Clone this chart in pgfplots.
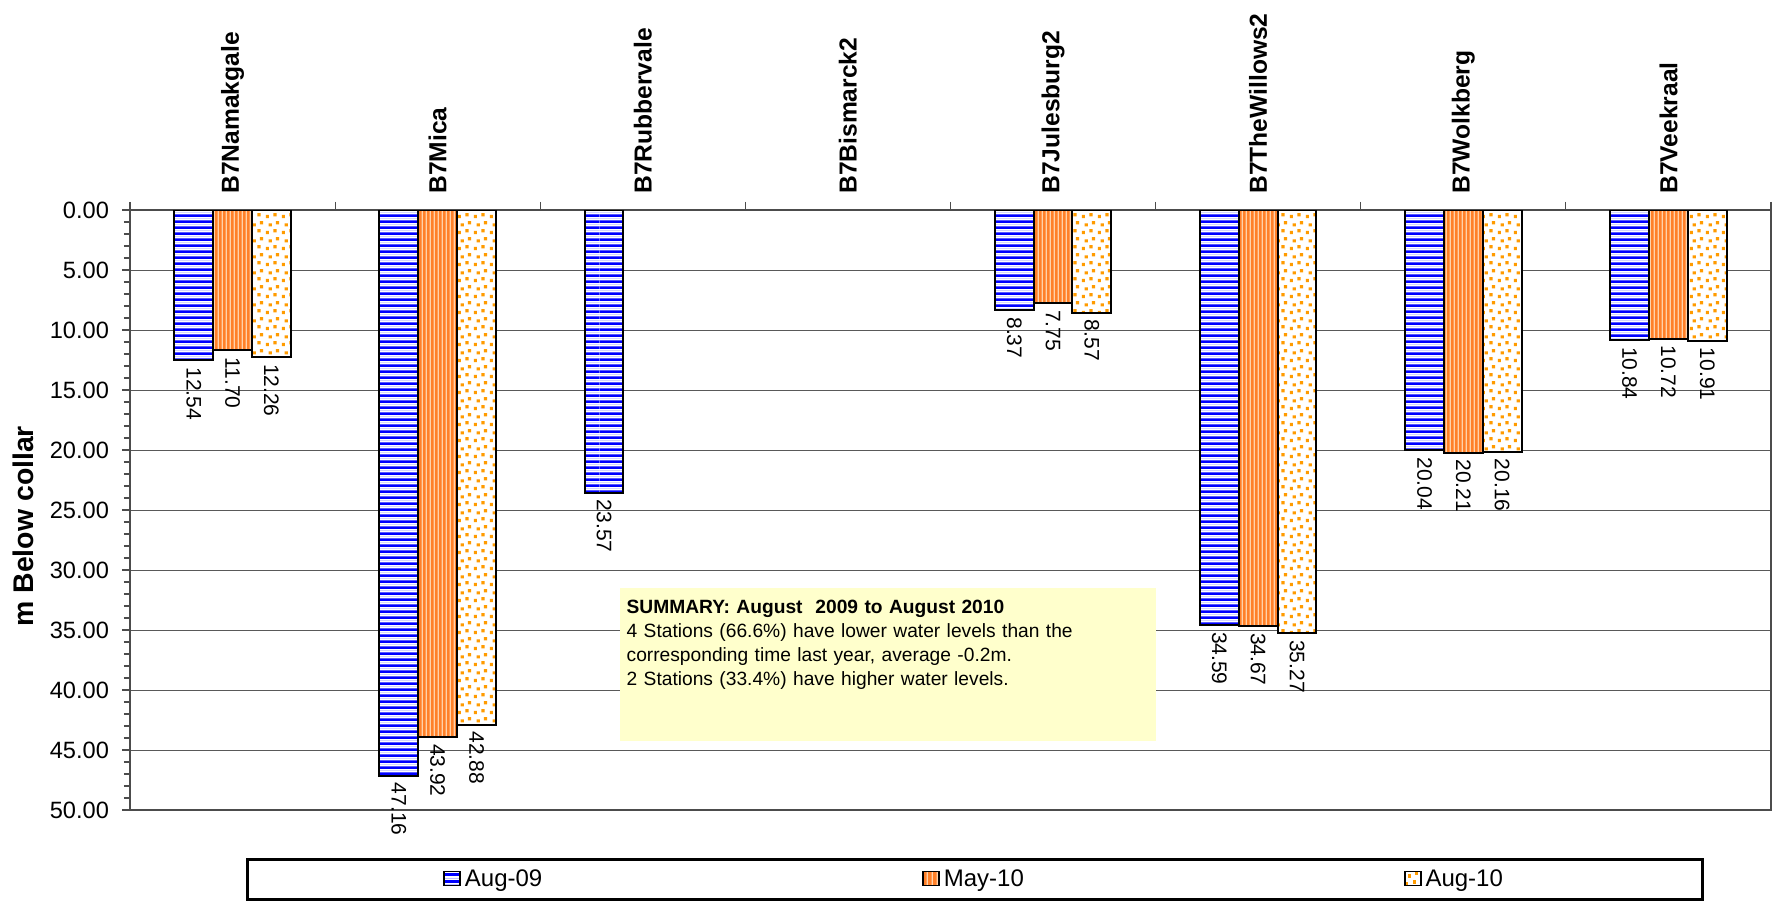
\documentclass[border=0pt]{standalone}
\usepackage{pgfplots}
\pgfplotsset{compat=1.18}
\usepackage{fontspec}
\setmainfont{Liberation Sans}
\usetikzlibrary{patterns.meta}
\definecolor{stripeorange}{RGB}{255,128,40}
\definecolor{stripelight}{RGB}{255,210,170}
\definecolor{dotorange}{RGB}{255,155,0}
\definecolor{summaryfill}{RGB}{255,255,204}
\tikzdeclarepattern{
  name=bluestripes, type=colored,
  bottom left={(0pt,0pt)}, top right={(300pt,3.2pt)}, tile size={(300pt,3.2pt)},
  code={\fill[white] (0pt,0pt) rectangle (300pt,3.2pt);
        \fill[blue!25] (0pt,2.25pt) rectangle (300pt,2.55pt);
        \fill[blue] (0pt,0pt) rectangle (300pt,1.5pt);}
}
\tikzdeclarepattern{
  name=orangestripes, type=colored,
  bottom left={(0pt,0pt)}, top right={(2.2pt,400pt)}, tile size={(2.2pt,400pt)},
  code={\fill[stripeorange] (0pt,0pt) rectangle (2.2pt,400pt);
        \fill[stripelight] (1.45pt,0pt) rectangle (2.15pt,400pt);}
}
\tikzdeclarepattern{
  name=orangedots, type=colored,
  bottom left={(0pt,0pt)}, top right={(7.8pt,7.8pt)}, tile size={(7.8pt,7.8pt)},
  code={\fill[white] (0pt,0pt) rectangle (7.8pt,7.8pt);
        \fill[dotorange] (0.4pt,0.5pt) rectangle ++(1.6pt,1.6pt);
        \fill[dotorange] (4.3pt,1.4pt) rectangle ++(1.6pt,1.6pt);
        \fill[dotorange] (1.9pt,4.4pt) rectangle ++(1.6pt,1.6pt);
        \fill[dotorange] (5.6pt,5.5pt) rectangle ++(1.6pt,1.6pt);}
}
\begin{document}
\begin{tikzpicture}
\begin{axis}[
  scale only axis,
  width=820.5pt, height=300pt,
  ybar=0pt, bar width=19.4pt,
  y dir=reverse,
  ymin=0, ymax=50,
  xmin=-0.5, xmax=7.5,
  xtick={-0.5,0.5,...,7.5},
  x tick label as interval,
  xticklabels={B7Namakgale,B7Mica,B7Rubbervale,B7Bismarck2,B7Julesburg2,B7TheWillows2,B7Wolkberg,B7Veekraal},
  xticklabel style={rotate=90, anchor=west, font=\bfseries\fontsize{12.3}{14}\selectfont, inner xsep=4pt},
  xtick pos=right,
  xticklabel pos=right,
  ytick={0,5,...,50},
  minor y tick num=4,
  ytick pos=left,
  tick align=outside,
  major tick length=4pt, minor tick length=3pt,
  tick style={gray!60!black, line width=0.6pt},
  yticklabel style={font=\fontsize{11.8}{14}\selectfont, xshift=-3pt},
  /pgf/number format/.cd, fixed, fixed zerofill, precision=2, assume math mode=true,
  /pgfplots/.cd,
  ymajorgrids,
  grid style={gray!70!black, line width=0.5pt},
  axis line style={gray!60!black, line width=0.8pt},
  ylabel={m Below collar},
  ylabel style={font=\bfseries\fontsize{14.2}{16}\selectfont, at={(axis description cs:-0.0652,0.473)}, anchor=center},
  nodes near coords,
  nodes near coords align={west},
  every node near coord/.append style={rotate=-90, anchor=west, font=\fontsize{10.5}{12}\selectfont, inner sep=3pt, black},
  legend columns=3,
  legend style={at={(axis description cs:0.515,-0.08)}, anchor=north, draw=black, line width=1.5pt,
    inner xsep=98pt, inner ysep=3pt, font=\fontsize{12}{14}\selectfont,
    /tikz/every even column/.append style={column sep=188pt}},
  legend image code/.code={\draw[#1, line width=0.8pt] (0pt,-3pt) rectangle (8pt,4pt);},
]
\addplot[draw=black, line width=1pt, pattern=bluestripes] coordinates {(0,12.54) (1,47.16) (2,23.57) (4,8.37) (5,34.59) (6,20.04) (7,10.84)};
\addplot[draw=black, line width=1pt, pattern=orangestripes] coordinates {(0,11.70) (1,43.92) (4,7.75) (5,34.67) (6,20.21) (7,10.72)};
\addplot[draw=black, line width=1pt, pattern=orangedots] coordinates {(0,12.26) (1,42.88) (4,8.57) (5,35.27) (6,20.16) (7,10.91)};
\legend{Aug-09,May-10,Aug-10}
\fill[summaryfill] (axis cs:1.89,31.5) rectangle (axis cs:4.50,44.25);
\node[anchor=north west, inner xsep=3pt, inner ysep=6pt, text width=260pt, align=left, font=\fontsize{9.6}{11.9}\selectfont]
  at (axis cs:1.89,31.5) {\textbf{SUMMARY: August\ \ 2009 to August 2010}\\4 Stations (66.6\%) have lower water levels than the\\corresponding time last year, average -0.2m.\\2 Stations (33.4\%) have higher water levels.};
\coordinate (bl) at (axis description cs:0,0);
\coordinate (tr) at (axis description cs:1,1);
\end{axis}
\pgfresetboundingbox
\path ([shift={(-65pt,-46pt)}]bl) rectangle ([shift={(1.5pt,105pt)}]tr);
\end{tikzpicture}
\end{document}
